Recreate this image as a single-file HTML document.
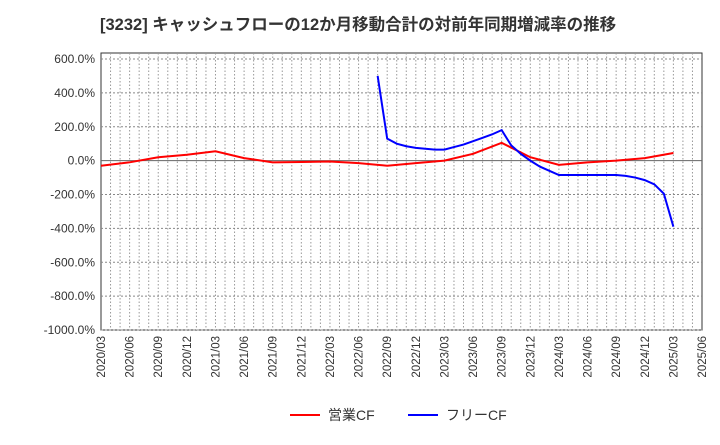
<!DOCTYPE html>
<html><head><meta charset="utf-8"><style>
body{margin:0;background:#fff;font-family:"Liberation Sans","Noto Sans CJK JP",sans-serif}
</style></head><body>
<svg id="c" width="720" height="440" xmlns="http://www.w3.org/2000/svg"></svg>
<script>
const xTicks=["2020/03","2020/06","2020/09","2020/12","2021/03","2021/06","2021/09","2021/12","2022/03","2022/06","2022/09","2022/12","2023/03","2023/06","2023/09","2023/12","2024/03","2024/06","2024/09","2024/12","2025/03","2025/06"];
const yTicks=[600,400,200,0,-200,-400,-600,-800,-1000];
const opMonths=[0,3,6,9,12,15,18,21,24,27,30,33,36,39,42,45,48,51,54,57,60];
const opValues=[-30,-10,20,35,55,15,-10,-8,-5,-15,-30,-15,0,40,105,20,-25,-10,0,15,45];
const fcfMonths=[29,30,31,32,33,34,35,36,37,38,39,40,41,42,43,44,45,46,47,48,49,50,51,52,53,54,55,56,57,58,59,60];
const fcfValues=[500,130,100,85,75,70,65,65,80,95,115,135,155,180,90,40,0,-35,-60,-85,-85,-85,-85,-85,-85,-85,-90,-100,-115,-140,-195,-390];
const svg=document.getElementById('c');const NS='http://www.w3.org/2000/svg';
const L=101,R=702,T=53,B=330;
const X=m=>L+m*(R-L)/63;
const Y=v=>59+(600-v)*(330-59)/1600;
function mk(t,a,txt){const e=document.createElementNS(NS,t);for(const k in a)e.setAttribute(k,a[k]);if(txt!=null)e.textContent=txt;svg.appendChild(e);return e;}
let e=mk('rect',{x:L,y:T,width:R-L,height:B-T,fill:'#fff',stroke:'#333'});

for(let m=1;m<63;m++){e=mk('line',{x1:X(m),x2:X(m),y1:T,y2:B,stroke:'#999','stroke-dasharray':'1.5,2','stroke-width':1});
}
yTicks.forEach(v=>{const y=Y(v);
e=mk('line',{x1:L,x2:R,y1:y,y2:y,stroke:v===0?'#666':'#888','stroke-dasharray':v===0?'':'2,2'});

e=mk('text',{x:L-6,y:y+4,'text-anchor':'end','font-size':12,fill:'#333'},v.toFixed(1)+'%');
});
xTicks.forEach((t,i)=>{const x=X(i*3);
e=mk('text',{x:x+4,y:B+6,'text-anchor':'end','font-size':11.5,fill:'#333',transform:`rotate(-90 ${x+4} ${B+6})`},t);
});
e=mk('polyline',{points:opMonths.map((m,i)=>X(m)+','+Y(opValues[i])).join(' '),fill:'none',stroke:'#f00','stroke-width':2});

e=mk('polyline',{points:fcfMonths.map((m,i)=>X(m)+','+Y(fcfValues[i])).join(' '),fill:'none',stroke:'#00f','stroke-width':2});

e=mk('text',{x:100,y:30,'font-size':16.5,'font-weight':'bold',fill:'#333'},'[3232]  キャッシュフローの12か月移動合計の対前年同期増減率の推移');

e=mk('line',{x1:290,x2:320,y1:415,y2:415,stroke:'#f00','stroke-width':2});

e=mk('text',{x:328,y:420,'font-size':14,fill:'#333'},'営業CF');

e=mk('line',{x1:408,x2:438,y1:415,y2:415,stroke:'#00f','stroke-width':2});

e=mk('text',{x:446,y:420,'font-size':14,fill:'#333'},'フリーCF');

</script>
</body></html>
